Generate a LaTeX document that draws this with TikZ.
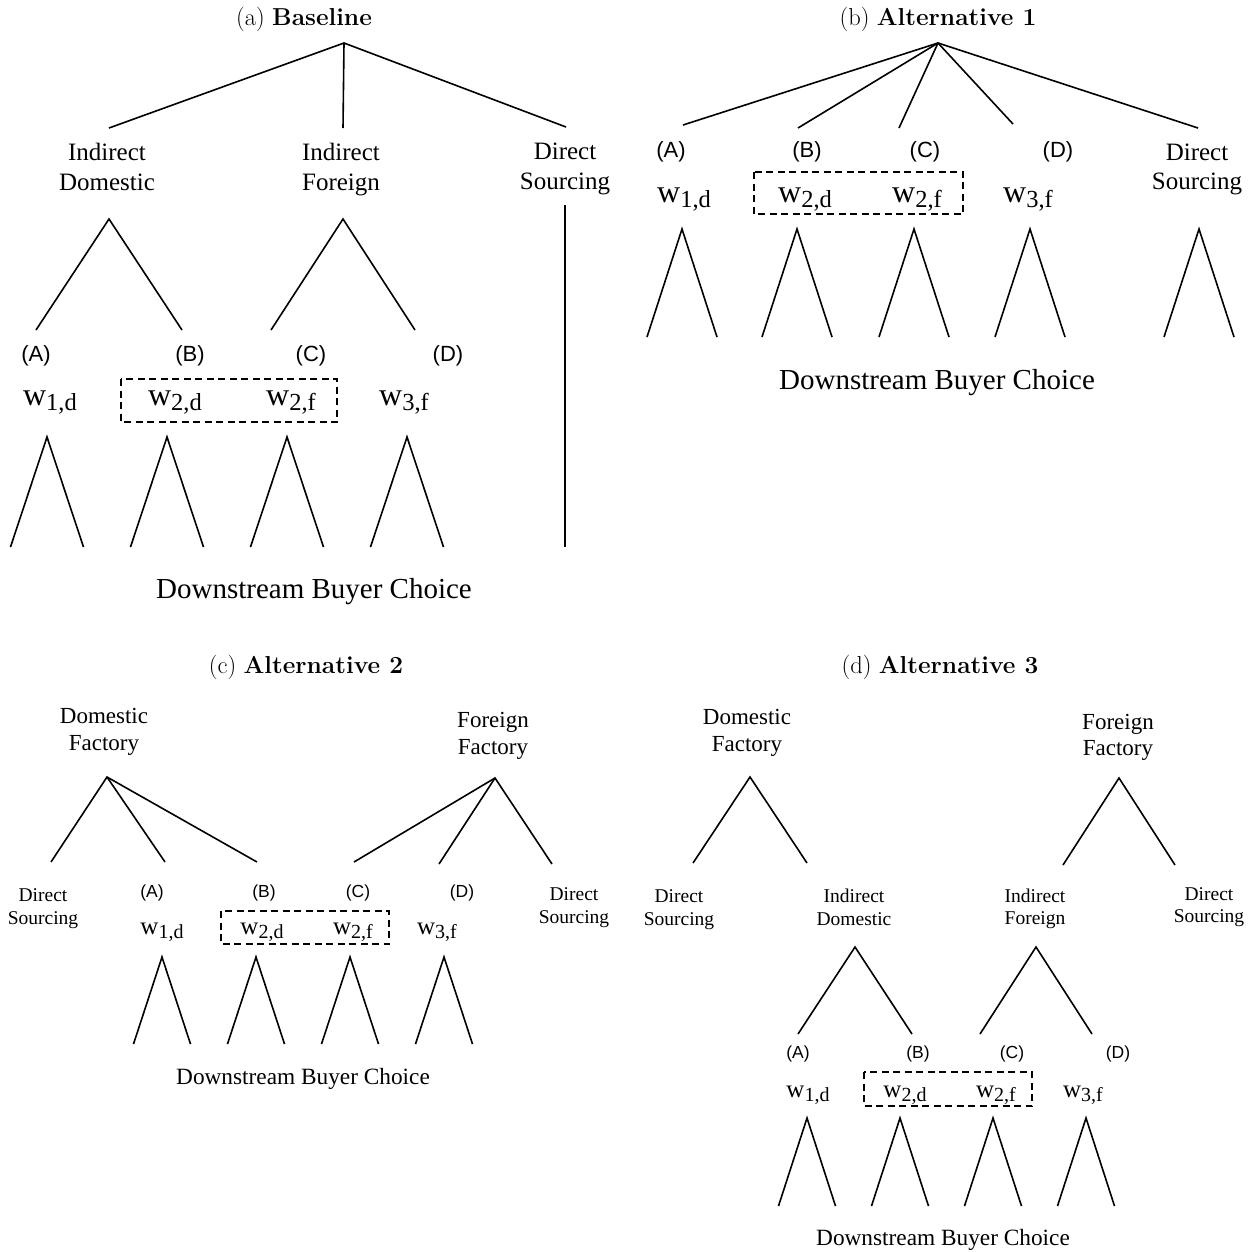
\documentclass[tikz,border=0pt]{standalone}
\usepackage{fontspec}
\newfontfamily\tnr{Liberation Serif}
\newfontfamily\arl{Liberation Sans}
\newcommand\wbig[1]{{\tnr\fontsize{32}{32}\selectfont w\raisebox{-5pt}{\fontsize{24.5}{24.5}\selectfont #1}}}
\newcommand\wsmall[1]{{\tnr\fontsize{25}{25}\selectfont w\raisebox{-4.5pt}{\fontsize{20}{20}\selectfont #1}}}
\newcommand\peak[5]{%
  \coordinate (#1t) at (#2,#3);
  \coordinate (#1l) at ({#2-#4},#5);
  \coordinate (#1r) at ({#2+#4},#5);
  \draw[tree] (#1l) -- (#1t) -- (#1r);}
\tikzset{
  tree/.style={line width=1.6pt},
  dbox/.style={line width=1.5pt, dash pattern=on 7pt off 4.5pt},
  capt/.style={anchor=base, inner sep=0pt, font=\fontsize{24.5}{29}\selectfont},
  bigtxt/.style={anchor=base, inner sep=0pt, font=\tnr\fontsize{25}{30}\selectfont},
  midtxt/.style={anchor=base, inner sep=0pt, font=\tnr\fontsize{23}{27}\selectfont},
  smalltxt/.style={anchor=base, inner sep=0pt, font=\tnr\fontsize{19.5}{23}\selectfont},
  abcbig/.style={anchor=center, inner sep=0pt, font=\arl\fontsize{22}{26}\selectfont},
  abcsmall/.style={anchor=center, inner sep=0pt, font=\arl\fontsize{17.5}{21}\selectfont},
  wl/.style={anchor=base, inner sep=0pt},
  dsbig/.style={anchor=base, inner sep=0pt, font=\tnr\fontsize{29}{34}\selectfont},
  dssmall/.style={anchor=base, inner sep=0pt, font=\tnr\fontsize{23.3}{28}\selectfont},
}
\begin{document}
\begin{tikzpicture}[x=1pt,y=-1pt]
\useasboundingbox (0,0) rectangle (1255,1251);
% ================= (a) Baseline =================
\node[capt] (capa) at (304,25) {(a) \textbf{Baseline}};
\coordinate (aR) at (344,43);
\coordinate (aR1) at (109,128);
\coordinate (aR2) at (343,128);
\coordinate (aR3) at (566,127);
\draw[tree] (aR1) -- (aR) -- (aR3);
\draw[tree] (aR) -- (aR2);
\node[bigtxt] (aID1) at (107,160) {Indirect};
\node[bigtxt] (aID2) at (107,190) {Domestic};
\node[bigtxt] (aIF1) at (341,160) {Indirect};
\node[bigtxt] (aIF2) at (341,190) {Foreign};
\node[bigtxt] (aDS1) at (565,159) {Direct};
\node[bigtxt] (aDS2) at (565,189) {Sourcing};
\peak{aS1}{109}{219}{73}{330}
\peak{aS2}{343}{219}{72}{330}
\coordinate (aV1) at (565,205);
\coordinate (aV2) at (565,547);
\draw[tree] (aV1) -- (aV2);
\node[abcbig] (aA) at (36,356) {(A)};
\node[abcbig] (aB) at (190,356) {(B)};
\node[abcbig] (aC) at (311,356) {(C)};
\node[abcbig] (aD) at (448,356) {(D)};
\node[wl] (aw1) at (50,405) {\wbig{1,d}};
\node[wl] (aw2) at (175,405) {\wbig{2,d}};
\node[wl] (aw3) at (291,405) {\wbig{2,f}};
\node[wl] (aw4) at (404,405) {\wbig{3,f}};
\draw[dbox] (121,379) rectangle (337,422);
\peak{aB1}{47}{437}{36.5}{547}
\peak{aB2}{167}{437}{36.5}{547}
\peak{aB3}{287}{437}{36.5}{547}
\peak{aB4}{407}{437}{36.5}{547}
\node[dsbig] (aDown) at (314,598) {Downstream Buyer Choice};
% ================= (b) Alternative 1 =================
\node[capt] (capb) at (938,25) {(b) \textbf{Alternative 1}};
\coordinate (bR) at (938,43);
\coordinate (bR1) at (683,125);
\coordinate (bR2) at (798,128);
\coordinate (bR3) at (899,128);
\coordinate (bR4) at (1013,124);
\coordinate (bR5) at (1198,128);
\draw[tree] (bR1) -- (bR) -- (bR5);
\draw[tree] (bR) -- (bR2);
\draw[tree] (bR) -- (bR3);
\draw[tree] (bR) -- (bR4);
\node[abcbig] (bA) at (671,152) {(A)};
\node[abcbig] (bB) at (807,152) {(B)};
\node[abcbig] (bC) at (925,152) {(C)};
\node[abcbig] (bD) at (1058,152) {(D)};
\node[bigtxt] (bDS1) at (1197,160) {Direct};
\node[bigtxt] (bDS2) at (1197,189) {Sourcing};
\node[wl] (bw1) at (684,202) {\wbig{1,d}};
\node[wl] (bw2) at (805,202) {\wbig{2,d}};
\node[wl] (bw3) at (917,202) {\wbig{2,f}};
\node[wl] (bw4) at (1028,202) {\wbig{3,f}};
\draw[dbox] (754,172) rectangle (963,214);
\peak{bB1}{682}{229}{35}{337}
\peak{bB2}{797}{229}{35}{337}
\peak{bB3}{914}{229}{35}{337}
\peak{bB4}{1030}{229}{35}{337}
\peak{bB5}{1199}{229}{35}{337}
\node[dsbig] (bDown) at (937,389) {Downstream Buyer Choice};
% ================= (c) Alternative 2 =================
\node[capt] (capc) at (306,673) {(c) \textbf{Alternative 2}};
\node[midtxt] (cDF1) at (104,723) {Domestic};
\node[midtxt] (cDF2) at (104,750) {Factory};
\node[midtxt] (cFF1) at (493,727) {Foreign};
\node[midtxt] (cFF2) at (493,754) {Factory};
\coordinate (cD) at (107,777);
\coordinate (cD1) at (51,862);
\coordinate (cD2) at (165,862);
\coordinate (cD3) at (257,862);
\draw[tree] (cD1) -- (cD) -- (cD3);
\draw[tree] (cD) -- (cD2);
\coordinate (cF) at (495,778);
\coordinate (cF1) at (354,862);
\coordinate (cF2) at (439,864);
\coordinate (cF3) at (552,864);
\draw[tree] (cF1) -- (cF) -- (cF3);
\draw[tree] (cF) -- (cF2);
\node[smalltxt] (cDSl1) at (43,901) {Direct};
\node[smalltxt] (cDSl2) at (43,924) {Sourcing};
\node[smalltxt] (cDSr1) at (574,900) {Direct};
\node[smalltxt] (cDSr2) at (574,923) {Sourcing};
\node[abcsmall] (cA) at (152,893) {(A)};
\node[abcsmall] (cB) at (264,893) {(B)};
\node[abcsmall] (cC) at (358,893) {(C)};
\node[abcsmall] (cDl) at (462,893) {(D)};
\node[wl] (cw1) at (162,934) {\wsmall{1,d}};
\node[wl] (cw2) at (262,934) {\wsmall{2,d}};
\node[wl] (cw3) at (353,934) {\wsmall{2,f}};
\node[wl] (cw4) at (437,934) {\wsmall{3,f}};
\draw[dbox] (221,911) rectangle (389,944);
\peak{cB1}{162}{957}{28.5}{1044}
\peak{cB2}{256}{957}{28.5}{1044}
\peak{cB3}{350}{957}{28.5}{1044}
\peak{cB4}{444}{957}{28.5}{1044}
\node[dssmall] (cDown) at (303,1084) {Downstream Buyer Choice};
% ================= (d) Alternative 3 =================
\node[capt] (capd) at (940,673) {(d) \textbf{Alternative 3}};
\node[midtxt] (dDF1) at (747,724) {Domestic};
\node[midtxt] (dDF2) at (747,751) {Factory};
\node[midtxt] (dFF1) at (1118,729) {Foreign};
\node[midtxt] (dFF2) at (1118,755) {Factory};
\peak{dT1}{750}{777}{57}{863}
\peak{dT2}{1119}{778}{56}{865}
\node[smalltxt] (dDSl1) at (679,902) {Direct};
\node[smalltxt] (dDSl2) at (679,925) {Sourcing};
\node[smalltxt] (dID1) at (854,902) {Indirect};
\node[smalltxt] (dID2) at (854,925) {Domestic};
\node[smalltxt] (dIF1) at (1035,902) {Indirect};
\node[smalltxt] (dIF2) at (1035,924) {Foreign};
\node[smalltxt] (dDSr1) at (1209,900) {Direct};
\node[smalltxt] (dDSr2) at (1209,922) {Sourcing};
\peak{dS1}{855}{947}{57}{1034}
\peak{dS2}{1036}{947}{56}{1034}
\node[abcsmall] (dA) at (798,1054) {(A)};
\node[abcsmall] (dB) at (918,1054) {(B)};
\node[abcsmall] (dC) at (1012,1054) {(C)};
\node[abcsmall] (dDl) at (1118,1054) {(D)};
\node[wl] (dw1) at (808,1097) {\wsmall{1,d}};
\node[wl] (dw2) at (905,1097) {\wsmall{2,d}};
\node[wl] (dw3) at (996,1097) {\wsmall{2,f}};
\node[wl] (dw4) at (1083,1097) {\wsmall{3,f}};
\draw[dbox] (864,1072) rectangle (1032,1106);
\peak{dB1}{807}{1118}{28.5}{1206}
\peak{dB2}{900}{1118}{28.5}{1206}
\peak{dB3}{993}{1118}{28.5}{1206}
\peak{dB4}{1086}{1118}{28.5}{1206}
\node[dssmall] (dDown) at (943,1245) {Downstream Buyer Choice};
\end{tikzpicture}
\end{document}
